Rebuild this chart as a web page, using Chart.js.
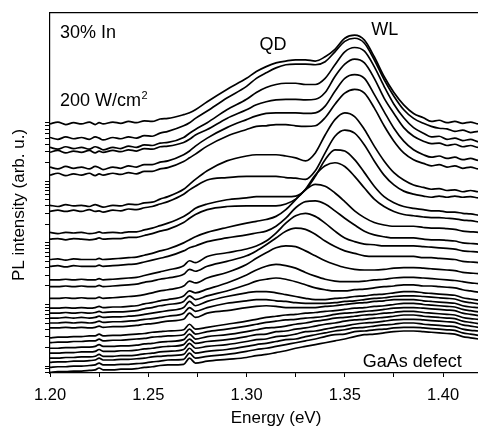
<!DOCTYPE html>
<html>
<head>
<meta charset="utf-8">
<script src="https://cdn.jsdelivr.net/npm/chart.js@4.4.1/dist/chart.umd.min.js"></script>
<style>
  html, body { margin: 0; padding: 0; background: #fff; overflow: hidden; }
  #wrap { width: 510px; height: 432px; }
</style>
</head>
<body>
<div id="wrap"><canvas id="chart" width="510" height="432"></canvas></div>
<script>
// photon energy (eV) of every sample point; denser on the flat, noisy ends
const energy = [
  1.200, 1.204, 1.208, 1.212, 1.216, 1.220, 1.223, 1.225, 1.227, 1.232, 1.236, 1.240, 1.244, 1.248, 1.252, 1.256, 1.260,
  1.268, 1.271, 1.274, 1.280, 1.290, 1.300, 1.305, 1.310, 1.315, 1.320, 1.325, 1.330, 1.335, 1.340, 1.345, 1.350,
  1.355, 1.360, 1.365, 1.370, 1.375, 1.380, 1.385,
  1.390, 1.394, 1.398, 1.402, 1.406, 1.410, 1.414, 1.418, 1.420];

// log10 of the PL intensity, from the highest excitation density down
const s01 = [3.93,3.96,3.92,3.95,3.93,3.96,3.92,3.95,3.93,3.96,3.94,3.97,3.95,3.98,3.97,4.01,4.02,
  4.08,4.11,4.16,4.29,4.49,4.67,4.78,4.86,4.92,4.95,4.97,4.97,4.95,5.02,5.14,5.32,5.37,5.29,5.02,4.70,4.44,4.24,4.10,
  4.03,3.97,3.99,3.95,3.97,3.94,3.96,3.93,3.95];
const s02 = [3.71,3.68,3.72,3.69,3.71,3.68,3.72,3.70,3.67,3.71,3.69,3.72,3.70,3.74,3.73,3.78,3.81,
  3.90,3.95,4.02,4.14,4.35,4.54,4.67,4.76,4.84,4.89,4.90,4.90,4.89,4.94,5.10,5.27,5.32,5.24,4.97,4.65,4.38,4.16,4.02,
  3.94,3.89,3.86,3.85,3.81,3.83,3.79,3.81,3.78];
const s03 = [3.55,3.52,3.56,3.53,3.55,3.52,3.56,3.54,3.51,3.55,3.53,3.57,3.55,3.59,3.58,3.62,3.63,
  3.71,3.78,3.84,3.95,4.16,4.33,4.44,4.52,4.57,4.59,4.59,4.57,4.57,4.67,4.89,5.10,5.17,5.11,4.86,4.54,4.25,4.03,3.87,
  3.78,3.72,3.73,3.68,3.70,3.66,3.68,3.64,3.66];
const s04 = [3.47,3.50,3.46,3.49,3.47,3.50,3.46,3.49,3.47,3.50,3.48,3.51,3.49,3.53,3.52,3.56,3.57,
  3.63,3.68,3.75,3.84,4.02,4.16,4.24,4.29,4.32,4.33,4.33,4.32,4.33,4.44,4.70,4.90,4.98,4.92,4.67,4.35,4.10,3.87,3.73,
  3.65,3.61,3.62,3.58,3.60,3.56,3.58,3.55,3.57];
const s05 = [3.23,3.20,3.24,3.21,3.23,3.20,3.24,3.22,3.19,3.23,3.21,3.25,3.23,3.27,3.27,3.31,3.33,
  3.43,3.49,3.57,3.70,3.87,4.00,4.06,4.10,4.11,4.11,4.11,4.10,4.11,4.22,4.46,4.67,4.73,4.67,4.41,4.13,3.86,3.65,3.51,
  3.43,3.39,3.41,3.37,3.39,3.35,3.37,3.34,3.36];
const s06 = [3.10,3.13,3.09,3.12,3.10,3.13,3.09,3.12,3.10,3.13,3.11,3.14,3.12,3.16,3.16,3.20,3.22,
  3.32,3.38,3.44,3.57,3.73,3.84,3.89,3.90,3.92,3.92,3.90,3.89,3.90,4.03,4.25,4.43,4.49,4.43,4.19,3.90,3.65,3.46,3.35,
  3.29,3.25,3.27,3.23,3.25,3.21,3.23,3.20,3.22];
const s07 = [2.61,2.59,2.62,2.60,2.61,2.59,2.62,2.60,2.58,2.61,2.60,2.63,2.62,2.65,2.66,2.71,2.75,
  2.87,2.95,3.03,3.17,3.33,3.41,3.43,3.43,3.43,3.41,3.38,3.33,3.46,3.75,4.00,4.11,4.05,3.84,3.57,3.33,3.14,3.02,2.94,
  2.90,2.87,2.88,2.85,2.86,2.83,2.85,2.83,2.84];
const s08 = [2.51,2.53,2.51,2.53,2.51,2.54,2.51,2.52,2.50,2.53,2.52,2.55,2.54,2.57,2.59,2.63,2.67,
  2.79,2.86,2.92,3.02,3.06,3.08,3.08,3.08,3.08,3.06,3.05,3.03,3.17,3.46,3.73,3.83,3.78,3.59,3.33,3.10,2.94,2.84,2.79,
  2.76,2.74,2.76,2.74,2.76,2.74,2.75,2.73,2.75];
const s09 = [2.17,2.15,2.17,2.16,2.17,2.15,2.16,2.18,2.16,2.17,2.16,2.18,2.18,2.21,2.24,2.28,2.32,
  2.43,2.49,2.56,2.63,2.70,2.73,2.75,2.75,2.75,2.75,2.76,2.86,3.08,3.35,3.51,3.49,3.35,3.14,2.92,2.75,2.65,2.59,2.56,
  2.54,2.52,2.52,2.50,2.50,2.48,2.47,2.45,2.44];
const s10 = [2.06,2.07,2.05,2.07,2.06,2.05,2.06,2.08,2.06,2.07,2.07,2.09,2.09,2.12,2.15,2.19,2.22,
  2.33,2.40,2.46,2.54,2.59,2.60,2.60,2.60,2.60,2.63,2.71,2.87,3.10,3.25,3.30,3.24,3.08,2.89,2.71,2.59,2.51,2.46,2.44,
  2.42,2.41,2.41,2.40,2.39,2.37,2.36,2.34,2.33];
const s11 = [1.73,1.74,1.72,1.74,1.73,1.73,1.73,1.75,1.73,1.74,1.75,1.76,1.77,1.80,1.83,1.87,1.90,
  2.00,2.05,2.10,2.17,2.25,2.32,2.35,2.38,2.43,2.54,2.70,2.86,2.95,2.92,2.81,2.67,2.52,2.41,2.33,2.29,2.27,2.27,2.27,
  2.25,2.24,2.24,2.23,2.22,2.19,2.18,2.17,2.16];
const s12 = [1.62,1.63,1.61,1.63,1.62,1.62,1.62,1.64,1.62,1.63,1.64,1.65,1.66,1.69,1.72,1.75,1.78,
  1.87,1.92,1.95,2.02,2.08,2.13,2.16,2.19,2.27,2.40,2.57,2.67,2.68,2.63,2.52,2.40,2.29,2.19,2.13,2.10,2.08,2.08,2.08,
  2.06,2.05,2.05,2.04,2.03,2.00,1.99,1.98,1.97];
const s13 = [1.40,1.40,1.41,1.40,1.41,1.40,1.40,1.42,1.40,1.41,1.42,1.43,1.44,1.47,1.50,1.53,1.56,
  1.63,1.71,1.68,1.78,1.84,1.90,1.95,2.03,2.16,2.32,2.44,2.48,2.43,2.32,2.19,2.08,2.02,1.98,1.97,1.95,1.95,1.95,1.95,
  1.94,1.93,1.92,1.91,1.90,1.87,1.86,1.85,1.84];
const s14 = [1.29,1.29,1.30,1.29,1.30,1.29,1.29,1.31,1.29,1.30,1.31,1.32,1.33,1.36,1.38,1.41,1.43,
  1.49,1.57,1.54,1.62,1.70,1.79,1.87,1.97,2.08,2.19,2.24,2.22,2.14,2.03,1.94,1.87,1.83,1.79,1.78,1.78,1.78,1.78,1.78,
  1.76,1.76,1.75,1.74,1.73,1.70,1.69,1.68,1.67];
const s15 = [1.10,1.10,1.11,1.10,1.11,1.10,1.10,1.12,1.10,1.11,1.12,1.13,1.14,1.16,1.19,1.22,1.24,
  1.30,1.38,1.35,1.43,1.52,1.65,1.75,1.84,1.92,1.95,1.94,1.87,1.79,1.71,1.65,1.60,1.57,1.56,1.56,1.57,1.59,1.60,1.60,
  1.59,1.58,1.57,1.56,1.55,1.52,1.51,1.50,1.49];
const s16 = [0.94,0.94,0.95,0.94,0.95,0.94,0.95,0.97,0.95,0.96,0.96,0.97,0.98,1.01,1.03,1.06,1.08,
  1.14,1.22,1.19,1.25,1.35,1.48,1.56,1.62,1.65,1.63,1.59,1.52,1.46,1.41,1.38,1.37,1.37,1.38,1.40,1.41,1.43,1.44,1.44,
  1.43,1.42,1.41,1.40,1.39,1.37,1.35,1.34,1.33];
const s17 = [0.86,0.86,0.87,0.86,0.87,0.86,0.87,0.89,0.87,0.88,0.88,0.89,0.90,0.93,0.95,0.98,1.00,
  1.05,1.14,1.08,1.14,1.22,1.32,1.38,1.41,1.43,1.41,1.37,1.32,1.27,1.24,1.22,1.22,1.24,1.25,1.27,1.29,1.30,1.32,1.32,
  1.30,1.30,1.29,1.28,1.27,1.24,1.22,1.20,1.19];
const s18 = [0.78,0.78,0.79,0.78,0.79,0.78,0.79,0.81,0.79,0.80,0.80,0.81,0.82,0.84,0.86,0.88,0.90,
  0.95,1.05,0.98,1.05,1.13,1.19,1.21,1.21,1.19,1.16,1.13,1.10,1.08,1.08,1.10,1.11,1.13,1.14,1.16,1.17,1.19,1.21,1.21,
  1.19,1.18,1.17,1.16,1.15,1.11,1.09,1.07,1.06];
const s19 = [0.70,0.70,0.71,0.70,0.71,0.70,0.71,0.73,0.71,0.72,0.72,0.73,0.74,0.76,0.77,0.79,0.81,
  0.86,0.95,0.89,0.95,1.02,1.06,1.08,1.08,1.06,1.05,1.03,1.02,1.02,1.02,1.03,1.05,1.06,1.08,1.10,1.11,1.13,1.14,1.14,
  1.13,1.12,1.11,1.10,1.09,1.05,1.03,1.01,1.00];
const s20 = [0.62,0.62,0.63,0.62,0.63,0.62,0.63,0.65,0.63,0.64,0.64,0.65,0.66,0.68,0.69,0.71,0.73,
  0.76,0.86,0.79,0.86,0.90,0.95,0.97,0.98,0.97,0.95,0.95,0.95,0.95,0.97,0.98,1.00,1.02,1.03,1.05,1.06,1.08,1.08,1.08,
  1.06,1.05,1.04,1.03,1.02,0.98,0.96,0.95,0.94];
const s21 = [0.46,0.47,0.47,0.48,0.48,0.49,0.49,0.52,0.49,0.50,0.50,0.51,0.52,0.53,0.55,0.56,0.57,
  0.59,0.68,0.60,0.63,0.68,0.73,0.76,0.79,0.81,0.83,0.84,0.86,0.87,0.89,0.90,0.92,0.94,0.95,0.97,0.98,1.00,1.02,1.02,
  1.00,0.99,0.98,0.97,0.96,0.92,0.90,0.88,0.87];
const s22 = [0.38,0.39,0.39,0.40,0.40,0.41,0.41,0.44,0.41,0.42,0.42,0.43,0.44,0.45,0.47,0.48,0.49,
  0.51,0.60,0.52,0.56,0.60,0.65,0.68,0.71,0.73,0.75,0.76,0.78,0.79,0.81,0.84,0.86,0.87,0.89,0.90,0.92,0.94,0.95,0.95,
  0.94,0.93,0.92,0.91,0.90,0.86,0.84,0.82,0.81];
const s23 = [0.29,0.29,0.30,0.30,0.31,0.31,0.32,0.35,0.32,0.32,0.33,0.33,0.34,0.36,0.37,0.39,0.40,
  0.43,0.52,0.44,0.48,0.51,0.56,0.59,0.62,0.63,0.65,0.68,0.70,0.73,0.75,0.78,0.79,0.81,0.83,0.84,0.86,0.87,0.89,0.89,
  0.87,0.86,0.85,0.84,0.83,0.79,0.77,0.76,0.75];
const s24 = [0.21,0.21,0.22,0.22,0.23,0.23,0.24,0.27,0.24,0.24,0.25,0.25,0.26,0.28,0.29,0.31,0.32,
  0.35,0.44,0.37,0.40,0.43,0.48,0.51,0.52,0.56,0.57,0.60,0.62,0.65,0.68,0.70,0.73,0.75,0.76,0.78,0.79,0.81,0.83,0.83,
  0.81,0.80,0.79,0.78,0.77,0.73,0.71,0.69,0.68];
const s25 = [0.13,0.13,0.14,0.14,0.15,0.15,0.16,0.19,0.16,0.16,0.17,0.17,0.18,0.20,0.21,0.23,0.24,
  0.27,0.37,0.29,0.32,0.35,0.40,0.43,0.44,0.48,0.49,0.52,0.56,0.57,0.60,0.63,0.65,0.68,0.70,0.71,0.73,0.75,0.76,0.76,
  0.75,0.74,0.73,0.72,0.71,0.67,0.65,0.63,0.62];
const s26 = [0.06,0.07,0.07,0.08,0.08,0.09,0.10,0.13,0.10,0.10,0.11,0.11,0.12,0.13,0.15,0.16,0.17,
  0.19,0.29,0.21,0.24,0.27,0.32,0.35,0.37,0.40,0.43,0.44,0.48,0.51,0.54,0.57,0.59,0.62,0.63,0.65,0.67,0.68,0.70,0.70,
  0.68,0.67,0.66,0.65,0.64,0.60,0.58,0.57,0.56];
const s27 = [-0.02,-0.01,-0.01,0.00,0.00,0.01,0.02,0.05,0.02,0.02,0.03,0.03,0.04,0.05,0.07,0.08,0.10,
  0.11,0.21,0.13,0.16,0.19,0.24,0.27,0.29,0.32,0.35,0.38,0.41,0.44,0.48,0.51,0.52,0.56,0.57,0.59,0.60,0.62,0.63,0.63,
  0.62,0.61,0.60,0.59,0.58,0.54,0.52,0.50,0.49];
const s28 = [-0.10,-0.09,-0.09,-0.08,-0.08,-0.07,-0.06,-0.03,-0.06,-0.06,-0.05,-0.05,-0.04,-0.02,-0.01,0.01,0.02,
  0.03,0.13,0.05,0.08,0.11,0.14,0.17,0.19,0.22,0.25,0.29,0.32,0.35,0.38,0.41,0.44,0.48,0.51,0.52,0.54,0.56,0.57,0.57,
  0.56,0.55,0.54,0.53,0.52,0.48,0.46,0.44,0.43];

const spectra = [s01, s02, s03, s04, s05, s06, s07, s08, s09, s10, s11, s12, s13, s14,
  s15, s16, s17, s18, s19, s20, s21, s22, s23, s24, s25, s26, s27, s28];

// axis ranges
const energyMin = 1.20;
const energyMax = 1.43;
const intensityMin = 0.774;
const intensityMax = 5.37e5;

// bottom axis ticks; only every 0.05 eV carries a label
const energyTicks = [1.200, 1.225, 1.250, 1.275, 1.300, 1.325, 1.350, 1.375, 1.400, 1.425];
// left axis: unlabelled log ticks k * 10^n
const tickDecades = [-1, 0, 1, 2, 3];
const tickSteps = [1, 2, 3, 4, 5, 6, 7, 8, 9];
const tickTop = 9000;

// text written inside the plot, placed in data coordinates
const notes = [
  { text: '30% In', e: 1.2051, logI: 5.325 },
  { text: '200 W/cm', sup: '2', e: 1.2051, logI: 4.222 },
  { text: 'QD', e: 1.3066, logI: 5.122 },
  { text: 'WL', e: 1.3635, logI: 5.381 },
  { text: 'GaAs defect', e: 1.3591, logI: -0.011 }
];
const yTitle = 'PL intensity (arb. u.)';

const FONT = '"Liberation Sans", Arial, Helvetica, sans-serif';
Chart.defaults.font.family = FONT;
Chart.defaults.color = '#000';

const logTicks = [];
tickDecades.forEach(d => tickSteps.forEach(k => {
  const v = k * Math.pow(10, d);
  if (v >= intensityMin && v <= tickTop) logTicks.push(v);
}));

const isLabelled = v => Math.abs(v * 20 - Math.round(v * 20)) < 1e-6;

// labels inside the frame plus the rotated intensity title
const notesPlugin = {
  id: 'notes',
  afterDatasetsDraw(chart) {
    const { ctx, chartArea, scales: { x, y } } = chart;
    ctx.save();
    ctx.fillStyle = '#000';
    ctx.textBaseline = 'alphabetic';
    ctx.textAlign = 'left';
    notes.forEach(n => {
      const px = x.getPixelForValue(n.e);
      const py = y.getPixelForValue(Math.pow(10, n.logI));
      ctx.font = '18px ' + FONT;
      ctx.fillText(n.text, px, py);
      if (n.sup) {
        const w = ctx.measureText(n.text).width;
        ctx.font = '11px ' + FONT;
        ctx.fillText(n.sup, px + w + 0.5, py - 7);
      }
    });
    // title sits a little below the middle of the axis
    ctx.translate(19, (chartArea.top + chartArea.bottom) / 2 + 12);
    ctx.rotate(-Math.PI / 2);
    ctx.font = '17px ' + FONT;
    ctx.textAlign = 'center';
    ctx.textBaseline = 'middle';
    ctx.fillText(yTitle, 0, 0);
    ctx.restore();
  }
};

const datasets = spectra.map(s => ({
  data: s.map((v, i) => ({ x: energy[i], y: Math.pow(10, v) })),
  borderColor: '#000',
  borderWidth: 1.7,
  pointRadius: 0,
  fill: false,
  cubicInterpolationMode: 'monotone'
}));

const canvas = document.getElementById('chart');

new Chart(canvas, {
  type: 'line',
  data: { datasets },
  options: {
    responsive: false,
    animation: false,
    devicePixelRatio: 1,
    layout: { padding: { top: 5, right: 8, left: 0, bottom: 0 } },
    plugins: { legend: { display: false }, tooltip: { enabled: false } },
    scales: {
      x: {
        type: 'linear',
        position: 'bottom',
        min: energyMin,
        max: energyMax,
        bounds: 'data',
        afterBuildTicks: s => { s.ticks = energyTicks.map(v => ({ value: v })); },
        afterFit: s => { s.height = 59; },
        ticks: {
          autoSkip: false,
          maxRotation: 0,
          padding: 9,
          font: { size: 16.5 },
          callback: v => isLabelled(v) ? v.toFixed(2) : ''
        },
        grid: { drawOnChartArea: false, tickLength: 4, color: '#000', lineWidth: 1 },
        border: { color: '#000', width: 1.2 },
        title: { display: true, text: 'Energy (eV)', font: { size: 17 }, padding: { top: 0, bottom: 3 } }
      },
      xTop: {
        type: 'linear',
        position: 'top',
        min: energyMin,
        max: energyMax,
        ticks: { display: false },
        grid: { display: false },
        border: { color: '#000', width: 1.2 }
      },
      y: {
        type: 'logarithmic',
        min: intensityMin,
        max: intensityMax,
        bounds: 'data',
        afterBuildTicks: s => { s.ticks = logTicks.map(v => ({ value: v })); },
        afterFit: s => { s.width = 50; },
        ticks: { display: false },
        grid: { drawOnChartArea: false, tickLength: 5, color: '#000', lineWidth: 1 },
        border: { color: '#000', width: 1.2 },
        title: { display: false }
      }
    }
  },
  plugins: [notesPlugin]
});
</script>
</body>
</html>
